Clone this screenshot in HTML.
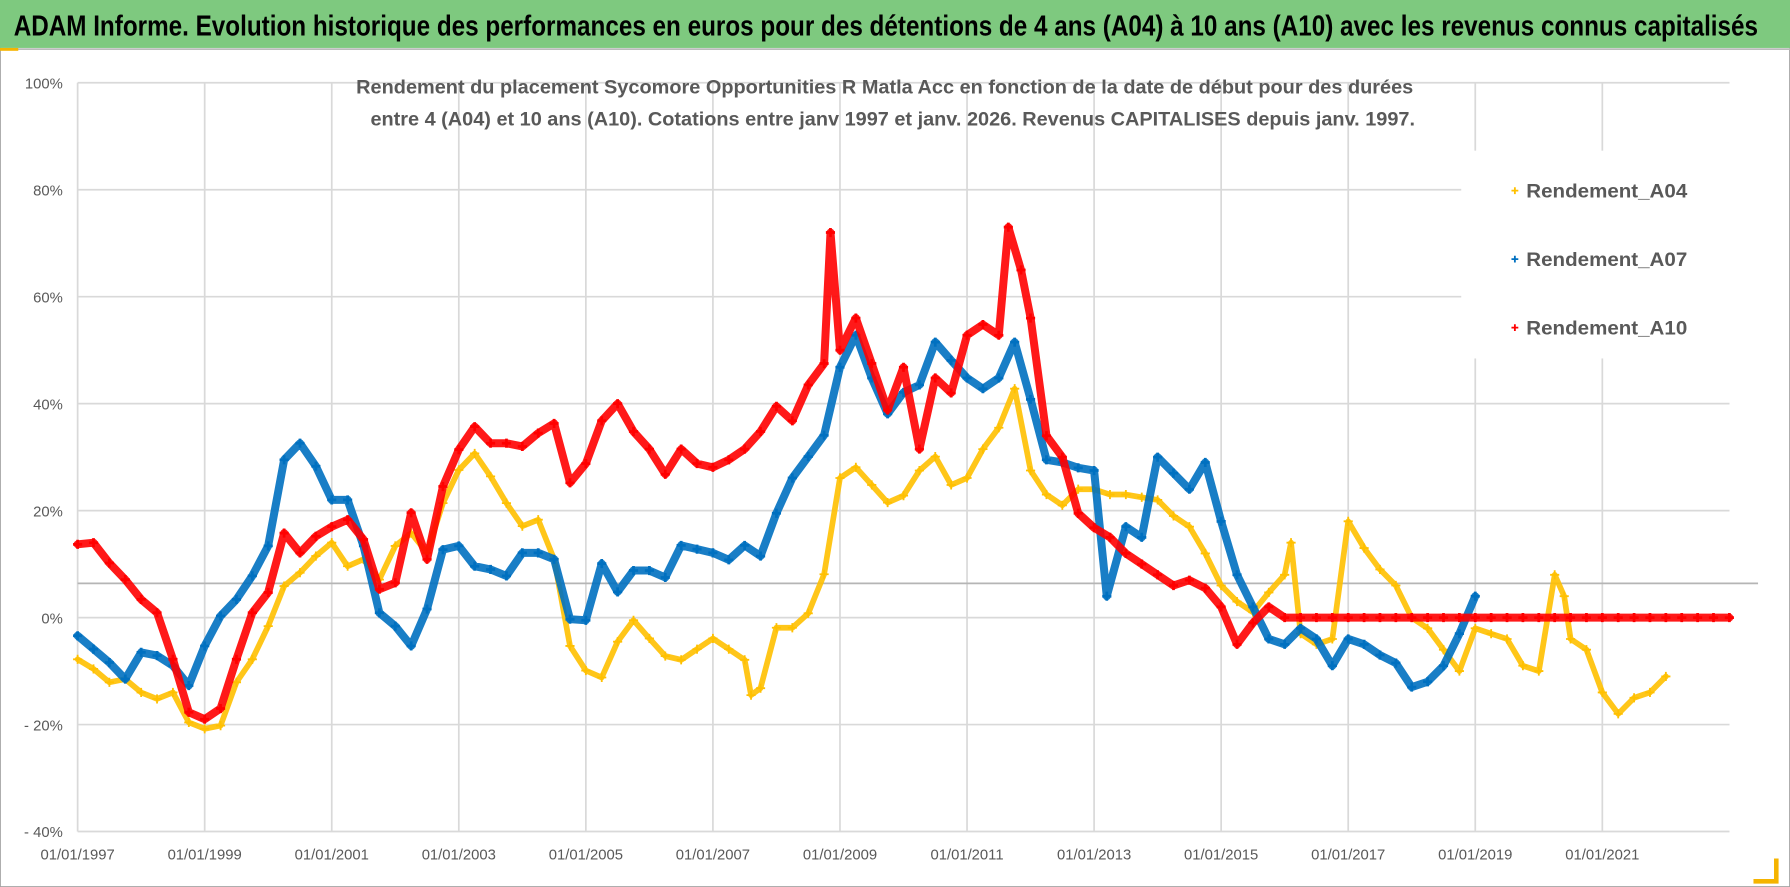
<!DOCTYPE html>
<html><head><meta charset="utf-8"><style>
html,body{margin:0;padding:0;background:#fff;}
svg{display:block;}
text{font-family:"Liberation Sans",sans-serif;}
</style></head><body>
<svg id="chart" width="1790" height="887" viewBox="0 0 1568 777" preserveAspectRatio="none" xmlns="http://www.w3.org/2000/svg">
<rect x="0" y="0" width="1568" height="777" fill="#fff" stroke="#a0a0a0" stroke-width="1.5"/>
<rect x="0" y="0" width="1568" height="42" fill="#7ec97f"/>
<line x1="0" y1="43" x2="1568" y2="43" stroke="#bbb" stroke-width="1.5"/>
<rect x="0" y="42" width="16" height="2.5" fill="#f5b400"/>
<text x="12" y="31" font-size="25" font-weight="bold" fill="#000" textLength="1528" lengthAdjust="spacingAndGlyphs">ADAM Informe. Evolution historique des performances en euros pour des détentions de 4 ans (A04) à 10 ans (A10) avec les revenus connus capitalisés</text>
<g id="grid"></g>
<g id="axes"></g>
<g id="series"></g>
<rect x="1280" y="132" width="236" height="182" fill="#fff"/>
<text x="775" y="82" font-size="17" font-weight="bold" fill="#595959" text-anchor="middle" textLength="926" lengthAdjust="spacingAndGlyphs">Rendement du placement Sycomore Opportunities R Matla Acc en fonction de la date de début pour des durées</text>
<text x="782" y="110" font-size="17" font-weight="bold" fill="#595959" text-anchor="middle" textLength="915" lengthAdjust="spacingAndGlyphs">entre 4 (A04) et 10 ans (A10). Cotations entre janv 1997 et janv. 2026. Revenus CAPITALISES depuis janv. 1997.</text>
<g id="legend"></g>
<path d="M1556 752 L1556 772 L1536 772" fill="none" stroke="#f5b400" stroke-width="4"/>
</svg>
<script>
const yTicks = [100, 80, 60, 40, 20, 0, -20, -40];
const yTickLabels = ["100%", "80%", "60%", "40%", "20%", "0%", "- 20%", "- 40%"];
const xTickYears = [1997, 1999, 2001, 2003, 2005, 2007, 2009, 2011, 2013, 2015, 2017, 2019, 2021];
const xTickLabels = ["01/01/1997","01/01/1999","01/01/2001","01/01/2003","01/01/2005","01/01/2007","01/01/2009","01/01/2011","01/01/2013","01/01/2015","01/01/2017","01/01/2019","01/01/2021"];
const seriesNames = ["Rendement_A04", "Rendement_A07", "Rendement_A10"];

const datesA04 = [1997.0,1997.25,1997.5,1997.75,1998.0,1998.25,1998.5,1998.75,1999.0,1999.25,1999.5,1999.75,2000.0,2000.25,2000.5,2000.75,2001.0,2001.25,2001.5,2001.75,2002.0,2002.25,2002.5,2002.75,2003.0,2003.25,2003.5,2003.75,2004.0,2004.25,2004.5,2004.75,2005.0,2005.25,2005.5,2005.75,2006.0,2006.25,2006.5,2006.75,2007.0,2007.25,2007.5,2007.6,2007.75,2008.0,2008.25,2008.5,2008.75,2009.0,2009.25,2009.5,2009.75,2010.0,2010.25,2010.5,2010.75,2011.0,2011.25,2011.5,2011.75,2012.0,2012.25,2012.5,2012.75,2013.0,2013.25,2013.5,2013.75,2014.0,2014.25,2014.5,2014.75,2015.0,2015.25,2015.5,2015.75,2016.0,2016.1,2016.25,2016.5,2016.75,2017.0,2017.25,2017.5,2017.75,2018.0,2018.25,2018.5,2018.75,2019.0,2019.25,2019.5,2019.75,2020.0,2020.25,2020.4,2020.5,2020.75,2021.0,2021.25,2021.5,2021.75,2022.0];
const valuesA04 = [-7.8,-9.6,-12.1,-11.5,-14,-15.2,-14,-19.6,-20.8,-20.2,-12.1,-7.8,-1.6,5.9,8.4,11.5,14,9.6,10.9,7.1,13.4,15.8,12.1,21.4,27.6,30.7,26.4,21.4,17.1,18.3,10.9,-5.3,-9.9,-11.2,-4.5,-0.5,-3.9,-7.2,-7.9,-5.9,-3.9,-5.9,-7.9,-14.5,-13.2,-1.9,-1.9,0.8,8.1,26.1,28.1,24.8,21.5,22.8,27.5,30.1,24.8,26.1,31.5,35.5,42.8,27.5,23,21,24,24,23,23,22.5,22,19,17,12,6,3,1,4.7,8,14,-3,-5,-4,18,13,9,6,0,-2,-6,-10,-2,-3,-4,-9,-10,8,4,-4,-6,-14,-18,-15,-14,-11];

const datesA07 = [1997.0,1997.25,1997.5,1997.75,1998.0,1998.25,1998.5,1998.75,1999.0,1999.25,1999.5,1999.75,2000.0,2000.25,2000.5,2000.75,2001.0,2001.25,2001.5,2001.75,2002.0,2002.25,2002.5,2002.75,2003.0,2003.25,2003.5,2003.75,2004.0,2004.25,2004.5,2004.75,2005.0,2005.25,2005.5,2005.75,2006.0,2006.25,2006.5,2006.75,2007.0,2007.25,2007.5,2007.75,2008.0,2008.25,2008.5,2008.75,2009.0,2009.25,2009.5,2009.75,2010.0,2010.25,2010.5,2010.75,2011.0,2011.25,2011.5,2011.75,2012.0,2012.25,2012.5,2012.75,2013.0,2013.2,2013.5,2013.75,2014.0,2014.25,2014.5,2014.75,2015.0,2015.25,2015.5,2015.75,2016.0,2016.25,2016.5,2016.75,2017.0,2017.25,2017.5,2017.75,2018.0,2018.25,2018.5,2018.75,2019.0];
const valuesA07 = [-3.4,-5.9,-8.4,-11.5,-6.5,-7.1,-9,-12.7,-5.3,0.3,3.4,7.8,13.4,29.5,32.6,28.3,22,22,13.4,0.9,-1.6,-5.3,1.6,12.7,13.4,9.6,9,7.8,12.1,12.1,10.9,-0.3,-0.5,10.1,4.8,8.8,8.8,7.5,13.5,12.8,12.1,10.8,13.5,11.5,19.5,26.1,30.1,34.1,46.8,52.8,44.8,38.1,42.1,43.5,51.5,48.1,44.8,42.8,44.8,51.5,40.8,29.5,29,28,27.5,4,17,15,30,27,24,29,18,8,2,-4,-5,-2,-4,-9,-4,-5,-7,-8.5,-13,-12,-9,-3,4];

const datesA10 = [1997.0,1997.25,1997.5,1997.75,1998.0,1998.25,1998.5,1998.75,1999.0,1999.25,1999.5,1999.75,2000.0,2000.25,2000.5,2000.75,2001.0,2001.25,2001.5,2001.75,2002.0,2002.25,2002.5,2002.75,2003.0,2003.25,2003.5,2003.75,2004.0,2004.25,2004.5,2004.75,2005.0,2005.25,2005.5,2005.75,2006.0,2006.25,2006.5,2006.75,2007.0,2007.25,2007.5,2007.75,2008.0,2008.25,2008.5,2008.75,2008.85,2009.0,2009.25,2009.5,2009.75,2010.0,2010.25,2010.5,2010.75,2011.0,2011.25,2011.5,2011.65,2011.85,2012.0,2012.25,2012.5,2012.75,2013.0,2013.25,2013.5,2013.75,2014.0,2014.25,2014.5,2014.75,2015.0,2015.25,2015.5,2015.75,2016.0,2016.25,2016.5,2016.75,2017.0,2017.25,2017.5,2017.75,2018.0,2018.25,2018.5,2018.75,2019.0,2019.25,2019.5,2019.75,2020.0,2020.25,2020.5,2020.75,2021.0,2021.25,2021.5,2021.75,2022.0,2022.25,2022.5,2022.75,2023.0];
const valuesA10 = [13.7,14,10.2,7.1,3.4,0.9,-7.8,-17.7,-19,-17,-7.8,0.9,4.7,15.8,12.1,15.2,17,18.3,14.6,5.3,6.5,19.6,10.9,24.5,31.4,35.7,32.6,32.6,32,34.5,36.3,25.2,28.8,36.8,40,34.8,31.5,26.8,31.5,28.8,28.1,29.5,31.5,34.8,39.5,36.8,43.5,47.5,72,50,56,47.5,38.8,46.8,31.5,44.8,42,52.8,54.8,52.8,73,65,56,34,30,19.5,16.8,15,12,10,8,6,7,5.5,2,-5,-1,2,0,0,0,0,0,0,0,0,0,0,0,0,0,0,0,0,0,0,0,0,0,0,0,0,0,0,0,0,0];

const NS = "http://www.w3.org/2000/svg";
const X0 = 68, PX_PER_YEAR = 55.65, Y0 = 541, PX_PER_PCT = 93.7/20;
const xScale = yr => X0 + (yr - 1997) * PX_PER_YEAR;
const yScale = v => Y0 - v * PX_PER_PCT;
const PLOT_RIGHT = 1515;

function mk(tag, attrs, parent) {
  const el = document.createElementNS(NS, tag);
  for (const k in attrs) el.setAttribute(k, attrs[k]);
  parent.appendChild(el);
  return el;
}
const grid = document.getElementById('grid');
const axes = document.getElementById('axes');
const seriesG = document.getElementById('series');
const legend = document.getElementById('legend');

yTicks.forEach((t, i) => {
  const y = yScale(t);
  const ln = mk('line', {x1: X0, x2: PLOT_RIGHT, y1: y, y2: y, stroke: '#d9d9d9', 'stroke-width': 1.5}, grid);
  
  
  const tx = mk('text', {x: 55, y: y + 5, 'font-size': 13, fill: '#595959', 'text-anchor': 'end'}, axes);
  tx.textContent = yTickLabels[i];
  
  
});
xTickYears.forEach((yr, i) => {
  const x = xScale(yr);
  const ln = mk('line', {x1: x, x2: x, y1: yScale(100), y2: yScale(-40), stroke: '#d9d9d9', 'stroke-width': 1.5}, grid);
  
  
  const tx = mk('text', {x: x, y: 753, 'font-size': 13, fill: '#595959', 'text-anchor': 'middle'}, axes);
  tx.textContent = xTickLabels[i];
  
  
});
const refLine = mk('line', {x1: X0, x2: 1540, y1: 511, y2: 511, stroke: '#b5b5b5', 'stroke-width': 1.5}, grid);



const colors = ['#ffc000', '#0070c0', '#ff0000'];
const allDates = [datesA04, datesA07, datesA10];
const allValues = [valuesA04, valuesA07, valuesA10];
const markerNames = ['marker-a04', 'marker-a07', 'marker-a10'];

allDates.forEach((dates, s) => {
  const g = mk('g', {}, seriesG);
  
  
  const pts = dates.map((d, i) => xScale(d).toFixed(1) + ',' + yScale(allValues[s][i]).toFixed(1)).join(' ');
  const pl = mk('polyline', {points: pts, fill: 'none', stroke: colors[s], 'stroke-width': s === 0 ? 5 : 7, 'stroke-linejoin': 'round', 'stroke-linecap': 'round', opacity: 0.9}, g);
  
  
  dates.forEach((d, i) => {
    const x = xScale(d), y = yScale(allValues[s][i]);
    const p = mk('path', {d: `M${x-4} ${y}H${x+4}M${x} ${y-4}V${y+4}`, stroke: colors[s], 'stroke-width': s === 0 ? 1.6 : 2.4, fill: 'none'}, g);
    
    
  });
});

const legendY = [167, 227, 287];
seriesNames.forEach((n, s) => {
  const x = 1327, y = legendY[s];
  const m = mk('path', {d: `M${x-3} ${y}H${x+3}M${x} ${y-3}V${y+3}`, stroke: colors[s], 'stroke-width': 1.6, fill: 'none'}, legend);
  
  
  const t = mk('text', {x: 1337, y: y + 6, 'font-size': 17, 'font-weight': 'bold', fill: '#595959', textLength: 141, lengthAdjust: 'spacingAndGlyphs'}, legend);
  t.textContent = n;
  
  
});
</script>
</body></html>
